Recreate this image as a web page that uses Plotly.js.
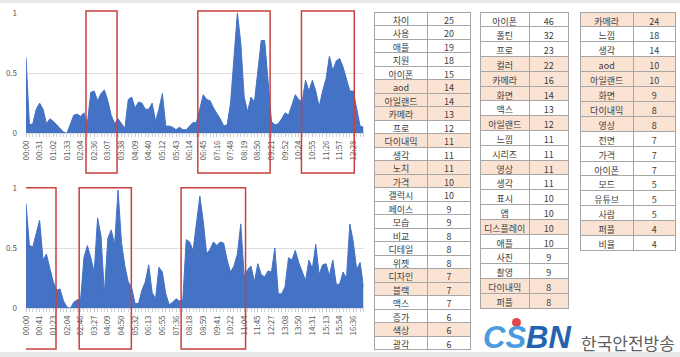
<!DOCTYPE html>
<html><head><meta charset="utf-8">
<script src="https://cdn.plot.ly/plotly-3.0.1.min.js"></script>
<style>html,body{margin:0;padding:0;background:#fff;}#chart{width:680px;height:357px;}</style>
</head><body><div id="chart"></div>
<script>
const topTicks = ['00:00','00:31','01:02','01:33','02:04','02:36','03:07','03:38','04:09','04:40','05:12','05:43','06:14','06:45','07:16','07:48','08:19','08:50','09:21','09:52','10:24','10:55','11:26','11:57','12:28'];
const bottomTicks = ['00:00','00:41','01:23','02:04','02:46','03:27','04:09','04:50','05:32','06:13','06:55','07:36','08:18','08:59','09:41','10:22','11:04','11:45','12:27','13:08','13:50','14:31','15:13','15:54','16:36'];

const topValues = [
0.63,0.07,0.08,0.2,0.25,0.2,0.08,0.12,0.1,0.07,
0.04,0.01,0,0.08,0.15,0.16,0.14,0.17,0.08,0.34,
0.35,0.27,0.33,0.36,0.27,0.15,0.08,0.12,0.08,0.04,
0.28,0.3,0.21,0.26,0.25,0.2,0.2,0.25,0.1,0.2,
0.33,0.06,0.06,0.05,0.03,0.05,0.03,0.03,0.06,0.09,
0.09,0.2,0.32,0.28,0.27,0.21,0.17,0.12,0.06,0.07,
0.25,0.6,1.0,0.75,0.3,0.18,0.3,0.26,0.5,0.77,
0.77,0.4,0.1,0.07,0.08,0.12,0.17,0.15,0.24,0.32,
0.28,0.26,0.44,0.35,0.44,0.35,0.22,0.35,0.45,0.64,
0.52,0.6,0.62,0.55,0.45,0.35,0.35,0.2,0.06,0.05];

const bottomValues = [
0.87,0.52,0.51,0.62,0.73,0.4,0.45,0.33,0.22,0.15,
0.16,0.06,0.01,0,0.05,0.07,0.07,0.42,0.52,0.42,
0.3,0.75,0.6,0.12,0.58,0.65,0.53,0.98,0.55,0.35,
0.22,0.17,0.04,0.04,0.15,0.22,0.36,0.13,0.08,0.34,
0.3,0.12,0.03,0.05,0.08,0.06,0.07,0.57,0.55,0.48,
0.72,0.93,0.72,0.45,0.49,0.55,0.52,0.55,0.54,0.4,
0.3,0.35,0.45,0.7,0.27,0.32,0.35,0.22,0.37,0.28,
0.26,0.31,0.3,0.5,0.12,0.12,0.18,0.42,0.4,0.48,
0.38,0.3,0.23,0.4,0.33,0.53,0.28,0.36,0.37,0.27,
0.4,0.2,0.2,0.3,0.25,0.7,0.55,0.32,0.38,0.18];

// highlighted spans (in data-point index units)
const topSpans = [[17.6,26.7],[50.4,71.6],[80.8,96.3]];
const bottomSpans = [[-0.6,8.8],[15.6,30.9],[45.5,64.4]];

const t1Words = ['차이','사용','애플','지원','아이폰','aod','아일랜드','카메라','프로','다이내믹','생각','노치','가격','갤럭시','페이스','모습','비교','디테일','위젯','디자인','블랙','맥스','증가','색상','광각'];
const t1Counts = [25,20,19,18,15,14,14,13,12,11,11,11,10,10,9,9,8,8,8,7,7,7,6,6,6];
const t1Marked = [0,0,0,0,0,1,1,1,0,1,0,1,1,0,0,0,0,0,0,1,1,0,0,1,0];

const t2Words = ['아이폰','폴틴','프로','컬러','카메라','화면','맥스','아일랜드','느낌','시리즈','영상','생각','표시','앱','디스플레이','애플','사진','촬영','다이내믹','퍼플'];
const t2Counts = [46,32,23,22,16,14,13,12,11,11,11,11,10,10,10,10,9,9,8,8];
const t2Marked = [0,0,0,1,1,1,0,1,0,0,1,0,0,0,1,0,0,0,1,1];

const t3Words = ['카메라','느낌','생각','aod','아일랜드','화면','다이내믹','영상','전면','가격','아이폰','모드','유튜브','사람','퍼플','비율'];
const t3Counts = [24,18,14,10,10,9,8,8,7,7,7,5,5,5,4,4];
const t3Marked = [1,0,0,1,1,1,1,1,0,0,0,0,0,0,1,0];

const W = 680, H = 357;
const FONT = '"Noto Sans CJK KR", "Noto Sans", sans-serif';
const px = x => x / W;
const py = y => 1 - y / H;
const BLUE = '#4472c4';
const RED = '#c9403f';
const PEACH = '#fbe3d4';

function areaTrace(vals, xa, ya) {
  return {type:'scatter', mode:'lines', x: vals.map((v,i)=>i), y: vals,
    fill:'tozeroy', fillcolor: BLUE, line:{color: BLUE, width:1},
    xaxis: xa, yaxis: ya, hoverinfo:'skip'};
}

// grid + fills table (no text), then a text-only table nudged up to centre text in the short rows
function makeTables(words, counts, marked, x0, x1, rowH, nudge) {
  const fills = marked.map(m => m ? PEACH : '#ffffff');
  const f = {family: FONT, size: 9, color: '#404040'};
  const blankW = words.map(() => ''), blankC = counts.map(() => '');
  const grid = {type:'table', domain:{x:[px(x0), px(x1)], y:[0, py(12)]},
    columnwidth:[55, 43],
    header:{values:[blankW[0], blankC[0]], height: rowH,
      fill:{color:[fills[0], fills[0]]}, line:{color:'#a6a6a6', width:1}, align:'center', font:f},
    cells:{values:[blankW.slice(1), blankC.slice(1)], height: rowH,
      fill:{color:[fills.slice(1), fills.slice(1)]}, line:{color:'#a6a6a6', width:1}, align:'center', font:f}
  };
  const clear = 'rgba(0,0,0,0)';
  const text = {type:'table', domain:{x:[px(x0), px(x1)], y:[0, py(12 - nudge)]},
    columnwidth:[55, 43],
    header:{values:[words[0], String(counts[0])], height: rowH,
      fill:{color:clear}, line:{color:clear, width:0}, align:'center', font:f},
    cells:{values:[words.slice(1), counts.slice(1).map(String)], height: rowH,
      fill:{color:clear}, line:{color:clear, width:0}, align:'center', font:f}
  };
  return [grid, text];
}

function xAxis(ticks, anchor) {
  return {domain:[px(26), px(363.5)], range:[0, 99], anchor: anchor,
    tickmode:'array', tickvals: ticks.map((t,k)=>k*4), ticktext: ticks,
    tickangle:-90, tickfont:{size:8, color:'#595959', family: FONT},
    ticks:'outside', ticklen:3, tickcolor:'#c8c8c8',
    minor:{tickmode:'linear', tick0:0, dtick:1, ticks:'outside', ticklen:3, tickcolor:'#c8d0e4', showgrid:false},
    showline:true, linecolor:'#d9d9d9', showgrid:false, zeroline:false, fixedrange:true};
}
function yAxis(dom, anchor) {
  return {domain: dom, range:[0, 1], anchor: anchor, tickmode:'array',
    tickvals:[0, 0.5, 1], ticktext:['0','0.5','1'],
    tickfont:{size:8, color:'#595959', family: FONT}, ticks:'', ticklabelstandoff: 8,
    showgrid:true, gridcolor:'#dedede', gridwidth:1, zeroline:false, showline:false, fixedrange:true};
}

const shapes = [];
topSpans.forEach(s => shapes.push({type:'rect', xref:'x', yref:'paper', x0:s[0], x1:s[1], y0:py(173), y1:py(11), line:{color:RED, width:1.5}, fillcolor:'rgba(0,0,0,0)'}));
bottomSpans.forEach(s => shapes.push({type:'rect', xref:'x2', yref:'paper', x0:s[0], x1:s[1], y0:py(349), y1:py(187.7), line:{color:RED, width:1.5}, fillcolor:'rgba(0,0,0,0)'}));
shapes.push({type:'rect', xref:'paper', yref:'paper', x0:0, x1:1, y0:py(3), y1:1, fillcolor:'#e8e8e8', line:{width:0}, layer:'below'});
shapes.push({type:'rect', xref:'paper', yref:'paper', x0:0, x1:1, y0:0, y1:py(352), fillcolor:'#e8e8e8', line:{width:0}, layer:'below'});
shapes.push({type:'circle', xref:'paper', yref:'paper', x0:px(512), x1:px(521), y0:py(327), y1:py(318), fillcolor:'#e2474d', line:{width:0}});

const annotations = [
  {text:'<b><i><span style="color:#4b9be0">CS</span><span style="color:#2363b0">BN</span></i></b>',
   xref:'paper', yref:'paper', x:px(527), y:py(337), xanchor:'center', yanchor:'middle', showarrow:false,
   font:{family:'"Liberation Sans", Arial, sans-serif', size:31, color:'#2f7fcf'}},
  {text:'한국안전방송', xref:'paper', yref:'paper', x:px(628), y:py(342), xanchor:'center', yanchor:'middle', showarrow:false,
   font:{family: FONT, size:17, color:'#5f5f5f'}}
];

const data = [
  areaTrace(topValues, 'x', 'y'),
  areaTrace(bottomValues, 'x2', 'y2'),
  ...makeTables(t1Words, t1Counts, t1Marked, 374, 471, 13.5, 2.8),
  ...makeTables(t2Words, t2Counts, t2Marked, 480, 569, 14.8, 2.2),
  ...makeTables(t3Words, t3Counts, t3Marked, 580, 675, 14.9, 2.2)
];

const layout = {
  width: W, height: H, margin:{l:0, r:0, t:0, b:0},
  paper_bgcolor:'#ffffff', plot_bgcolor:'rgba(0,0,0,0)', showlegend:false,
  font:{family: FONT, size:8, color:'#595959'},
  xaxis: xAxis(topTicks, 'y'),
  yaxis: yAxis([py(133.3), py(12.7)], 'x'),
  xaxis2: xAxis(bottomTicks, 'y2'),
  yaxis2: yAxis([py(308.3), py(187.7)], 'x2'),
  shapes: shapes, annotations: annotations
};

Plotly.newPlot('chart', data, layout, {staticPlot:true, displayModeBar:false});
</script>
</body></html>
